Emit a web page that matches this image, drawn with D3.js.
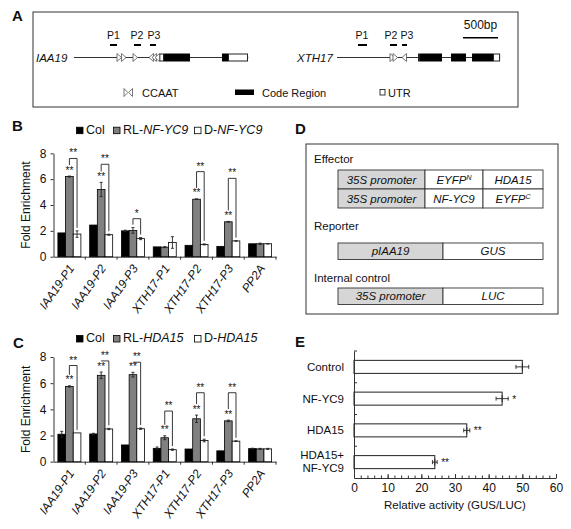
<!DOCTYPE html>
<html>
<head>
<meta charset="utf-8">
<script src="https://cdn.jsdelivr.net/npm/d3@7"></script>
<style>
body { margin: 0; background: #fff; }
text { font-family: "Liberation Sans", Arial, sans-serif; fill: #111; }
</style>
</head>
<body>
<svg id="fig" width="571" height="529"></svg>
<script>
// ---------- data ----------
// panel A: gene schematics, positions in bp from the start of the drawn line
var iaa19Len = 2490
var iaa19Fwd = [614, 679, 843]
var iaa19Rev = [1071, 1114, 1157]
var iaa19Utr = [[1219, 1286], [2200, 2486]]
var iaa19Cds = [[1286, 1657], [2114, 2200]]
// name, dash start, dash end, label centre
var iaa19Primers = [['P1', 514, 614, 564], ['P2', 857, 957, 900], ['P3', 1086, 1171, 1140]]

var xth17Len = 2330
var xth17Fwd = [757, 800]
var xth17Rev = [929]
var xth17Utr = [[1157, 1186], [2229, 2330]]
var xth17Cds = [[1186, 1500], [1629, 1843], [1929, 2229]]
var xth17Primers = [['P1', 300, 429, 355], ['P2', 757, 857, 771], ['P3', 929, 1000, 1000]]

// panels B and C: ChIP fold enrichment
var enrichCats = ['IAA19-P1', 'IAA19-P2', 'IAA19-P3', 'XTH17-P1', 'XTH17-P2', 'XTH17-P3', 'PP2A']
var enrichTicks = [0, 2, 4, 6, 8]

var colB = [1.84, 2.45, 2.0, 0.76, 0.88, 0.8, 1.0]
var colBErr = [0, 0, 0.05, 0, 0, 0, 0]
var rlB = [6.2, 5.2, 2.03, 0.74, 4.45, 2.7, 1.0]
var rlBErr = [0.04, 0.55, 0.22, 0.04, 0.02, 0.03, 0.05]
var dB = [1.75, 1.7, 1.4, 1.1, 0.95, 1.22, 1.0]
var dBErr = [0.25, 0.04, 0.08, 0.45, 0.04, 0.02, 0.02]
var starRlB = ['**', '**', '', '', '**', '**', '']
var starPairB = ['**', '**', '*', '', '**', '**', '']
var bracketB = [7.6, 7.15, 2.94, null, 6.58, 6.06, null]

var colC = [2.1, 2.12, 1.28, 1.02, 0.97, 0.83, 1.0]
var colCErr = [0.22, 0.05, 0, 0.1, 0, 0, 0.03]
var rlC = [5.75, 6.6, 6.65, 1.83, 3.28, 3.12, 0.98]
var rlCErr = [0.05, 0.25, 0.18, 0.15, 0.28, 0.06, 0.04]
var dC = [2.2, 2.5, 2.52, 0.92, 1.62, 1.57, 0.98]
var dCErr = [0, 0.05, 0.05, 0.05, 0.1, 0.03, 0.04]
var starRlC = ['**', '**', '**', '**', '**', '**', '']
var starPairC = ['**', '**', '**', '**', '**', '**', '']
var bracketC = [7.35, 7.7, 7.6, 3.87, 5.27, 5.27, null]

// panel E: transient assay
var actCats = ['Control', 'NF-YC9', 'HDA15', 'HDA15+NF-YC9']
var actLabels = [['Control'], ['NF-YC9'], ['HDA15'], ['HDA15+', 'NF-YC9']]
var actVals = [50, 44, 33.5, 24]
var actErr = [1.9, 1.8, 0.9, 0.7]
var actStars = ['', '*', '**', '**']
var actTicks = [0, 10, 20, 30, 40, 50, 60]

// ---------- drawing ----------
var svg = d3.select('#fig')
var FONT = '"Liberation Sans", Arial, sans-serif'

function panelLetter(t, x, y) {
	svg.append('text').attr('x', x).attr('y', y).text(t)
		.style('font-size', '15px').style('font-weight', 'bold')
}

panelLetter('A', 12, 21)
panelLetter('B', 12, 131)
panelLetter('C', 13, 348)
panelLetter('D', 295, 134)
panelLetter('E', 295, 347)

// ===== A =====
var gA = svg.append('g')
gA.append('rect').attr('x', 33).attr('y', 12).attr('width', 485).attr('height', 95)
	.attr('fill', 'none').attr('stroke', '#333').attr('stroke-width', 1)

var bp = d3.scaleLinear().domain([0, 500]).range([0, 35])

function drawGene(name, x0, labelX, len, fwd, rev, utr, cds, primers) {
	var g = gA.append('g').attr('transform', 'translate(' + x0 + ',0)')
	var lineY = 57.5
	gA.append('text').attr('x', labelX).attr('y', 61.7).text(name)
		.style('font-size', '11.5px').style('font-style', 'italic')
	g.append('line').attr('x1', bp(0)).attr('x2', bp(len)).attr('y1', lineY).attr('y2', lineY)
		.attr('stroke', '#333').attr('stroke-width', 1)
	g.selectAll('.cds').data(cds).enter().append('rect')
		.attr('x', function(d) { return bp(d[0]) }).attr('width', function(d) { return bp(d[1]) - bp(d[0]) })
		.attr('y', lineY - 4).attr('height', 8).attr('fill', '#000')
	g.selectAll('.utr').data(utr).enter().append('rect')
		.attr('x', function(d) { return bp(d[0]) + 0.5 }).attr('width', function(d) { return bp(d[1]) - bp(d[0]) - 1 })
		.attr('y', lineY - 3.5).attr('height', 7).attr('fill', '#fff').attr('stroke', '#222').attr('stroke-width', 1)
	g.selectAll('.fwd').data(fwd).enter().append('path')
		.attr('d', function(d) { var x = bp(d); return 'M' + x + ',' + (lineY - 4) + 'L' + (x + 4.5) + ',' + lineY + 'L' + x + ',' + (lineY + 4) + 'Z' })
		.attr('fill', '#fff').attr('stroke', '#666').attr('stroke-width', 0.9)
	g.selectAll('.rev').data(rev).enter().append('path')
		.attr('d', function(d) { var x = bp(d); return 'M' + (x + 4.5) + ',' + (lineY - 4) + 'L' + x + ',' + lineY + 'L' + (x + 4.5) + ',' + (lineY + 4) + 'Z' })
		.attr('fill', '#fff').attr('stroke', '#666').attr('stroke-width', 0.9)
	g.selectAll('.pdash').data(primers).enter().append('line')
		.attr('x1', function(d) { return bp(d[1]) }).attr('x2', function(d) { return bp(d[2]) })
		.attr('y1', 45).attr('y2', 45).attr('stroke', '#000').attr('stroke-width', 2)
	g.selectAll('.plab').data(primers).enter().append('text')
		.attr('x', function(d) { return bp(d[3]) }).attr('y', 39.3)
		.attr('text-anchor', 'middle').text(function(d) { return d[0] })
		.style('font-size', '10.5px')
}

drawGene('IAA19', 74, 36, iaa19Len, iaa19Fwd, iaa19Rev, iaa19Utr, iaa19Cds, iaa19Primers)
drawGene('XTH17', 337, 297, xth17Len, xth17Fwd, xth17Rev, xth17Utr, xth17Cds, xth17Primers)

// scale bar
gA.append('line').attr('x1', 498 - bp(500)).attr('x2', 498).attr('y1', 37.7).attr('y2', 37.7)
	.attr('stroke', '#000').attr('stroke-width', 1.5)
gA.append('text').attr('x', 498 - bp(500) / 2).attr('y', 29.3).attr('text-anchor', 'middle')
	.text('500bp').style('font-size', '12px')

// legend of A
gA.append('path').attr('d', 'M124,88.5L127.8,92.5L124,96.5Z').attr('fill', '#fff').attr('stroke', '#666').attr('stroke-width', 0.9)
gA.append('path').attr('d', 'M132.5,88.5L128.7,92.5L132.5,96.5Z').attr('fill', '#fff').attr('stroke', '#666').attr('stroke-width', 0.9)
gA.append('text').attr('x', 142).attr('y', 96.5).text('CCAAT').style('font-size', '11px')
gA.append('rect').attr('x', 235).attr('y', 89.5).attr('width', 19).attr('height', 5.5).attr('fill', '#000')
gA.append('text').attr('x', 262).attr('y', 96.5).text('Code Region').style('font-size', '11px')
gA.append('rect').attr('x', 380).attr('y', 89.5).attr('width', 5).attr('height', 5.5)
	.attr('fill', '#fff').attr('stroke', '#222').attr('stroke-width', 0.9)
gA.append('text').attr('x', 388).attr('y', 96.5).text('UTR').style('font-size', '11px')

// ===== B / C =====
var seriesKeys = ['col', 'rl', 'd']
var seriesFill = { col: '#000', rl: '#808080', d: '#fff' }

function drawEnrich(set) {
	var g = svg.append('g')
	var y = d3.scaleLinear().domain([0, 8]).range([set.bottom, set.top])
	var x = d3.scaleBand().domain(enrichCats).range([53.5, 276])
	var inner = d3.scaleBand().domain(seriesKeys).range([0, 23])
	var off = (x.bandwidth() - 23) / 2
	var cx = function(c, k) { return x(c) + off + inner(k) + inner.bandwidth() / 2 }

	// legend
	var leg = [
		{ k: 'col', x: 76, parts: [['Col', 'normal']] },
		{ k: 'rl', x: 113, parts: [['RL-', 'normal'], [set.gene, 'italic']] },
		{ k: 'd', x: 194, parts: [['D-', 'normal'], [set.gene, 'italic']] }
	]
	leg.forEach(function(l) {
		g.append('rect').attr('x', l.x + 0.5).attr('y', set.legendY - 6.5).attr('width', 6.5).attr('height', 6.5)
			.attr('fill', seriesFill[l.k]).attr('stroke', '#000').attr('stroke-width', 0.8)
		var t = g.append('text').attr('x', l.x + 10).attr('y', set.legendY).style('font-size', '12.5px')
		l.parts.forEach(function(p) { t.append('tspan').text(p[0]).style('font-style', p[1]) })
	})

	// y axis
	var ya = g.append('g').attr('transform', 'translate(53.5,0)')
		.call(d3.axisLeft(y).tickValues(enrichTicks).tickSize(3).tickSizeOuter(0).tickPadding(4))
	ya.selectAll('text').style('font-size', '12px').style('font-family', FONT).attr('fill', '#111')
	ya.select('.domain').attr('stroke', '#333')
	ya.selectAll('.tick line').attr('stroke', '#333')

	g.append('text').attr('transform', 'translate(29.5,' + ((set.top + set.bottom) / 2) + ') rotate(-90)')
		.attr('text-anchor', 'middle').text('Fold Enrichment').style('font-size', '12px')

	// x axis
	var xa = g.append('g').attr('transform', 'translate(0,' + set.bottom + ')')
		.call(d3.axisBottom(x).tickSize(0).tickSizeOuter(0).tickFormat(''))
	xa.select('.domain').attr('stroke', '#333')
	var bounds = enrichCats.slice(1).map(function(c) { return x(c) }).concat([x.range()[1]])
	g.selectAll('.btick').data(bounds).enter().append('line')
		.attr('x1', function(d) { return d }).attr('x2', function(d) { return d })
		.attr('y1', set.bottom).attr('y2', set.bottom + 3).attr('stroke', '#333')
	g.selectAll('.xlab').data(enrichCats).enter().append('text')
		.attr('transform', function(c) { return 'translate(' + (x(c) + x.bandwidth() / 2 + 5.5) + ',' + (set.bottom + 11.5) + ') rotate(-55)' })
		.attr('text-anchor', 'end').text(function(c) { return c })
		.style('font-size', '12px').style('font-style', 'italic')

	// bars
	var vals = { col: set.col, rl: set.rl, d: set.d }
	var errs = { col: set.colErr, rl: set.rlErr, d: set.dErr }
	var rows = []
	enrichCats.forEach(function(c, i) {
		seriesKeys.forEach(function(k) { rows.push({ c: c, k: k, v: vals[k][i], e: errs[k][i] }) })
	})
	g.selectAll('.bar').data(rows).enter().append('rect')
		.attr('x', function(d) { return x(d.c) + off + inner(d.k) })
		.attr('width', inner.bandwidth())
		.attr('y', function(d) { return y(d.v) })
		.attr('height', function(d) { return y(0) - y(d.v) })
		.attr('fill', function(d) { return seriesFill[d.k] })
		.attr('stroke', '#000').attr('stroke-width', 0.8)

	var er = rows.filter(function(d) { return d.e > 0 })
	g.selectAll('.err').data(er).enter().append('path')
		.attr('d', function(d) {
			var xc = cx(d.c, d.k), y1 = y(d.v + d.e), y2 = y(d.v - d.e)
			return 'M' + xc + ',' + y1 + 'V' + y2 + 'M' + (xc - 1.5) + ',' + y1 + 'H' + (xc + 1.5) + 'M' + (xc - 1.5) + ',' + y2 + 'H' + (xc + 1.5)
		})
		.attr('stroke', '#222').attr('stroke-width', 0.9).attr('fill', 'none')

	// significance marks
	enrichCats.forEach(function(c, i) {
		if (set.bracket[i] == null) return
		var rx = cx(c, 'rl'), dx = cx(c, 'd')
		var rlTop = y(set.rl[i] + set.rlErr[i])
		var dTop = y(set.d[i] + set.dErr[i])
		var by = y(set.bracket[i])
		if (set.starRl[i]) {
			g.append('text').attr('x', rx).attr('y', rlTop - 2.5).attr('text-anchor', 'middle')
				.text(set.starRl[i]).style('font-size', '10px')
		}
		var leftBottom = Math.max(set.starRl[i] ? rlTop - 11 : rlTop - 3, by)
		g.append('path')
			.attr('d', 'M' + rx + ',' + leftBottom + 'V' + by + 'H' + dx + 'V' + (dTop - 3))
			.attr('fill', 'none').attr('stroke', '#222').attr('stroke-width', 0.9)
		g.append('text').attr('x', (rx + dx) / 2).attr('y', by - 2).attr('text-anchor', 'middle')
			.text(set.starPair[i]).style('font-size', '10px')
	})
}

drawEnrich({
	top: 153.3, bottom: 256.7, legendY: 133.7, gene: 'NF-YC9',
	col: colB, colErr: colBErr, rl: rlB, rlErr: rlBErr, d: dB, dErr: dBErr,
	starRl: starRlB, starPair: starPairB, bracket: bracketB
})
drawEnrich({
	top: 357, bottom: 461.7, legendY: 342, gene: 'HDA15',
	col: colC, colErr: colCErr, rl: rlC, rlErr: rlCErr, d: dC, dErr: dCErr,
	starRl: starRlC, starPair: starPairC, bracket: bracketC
})

// ===== D =====
var gD = svg.append('g')
gD.append('rect').attr('x', 306).attr('y', 144).attr('width', 252).attr('height', 170)
	.attr('fill', 'none').attr('stroke', '#333').attr('stroke-width', 1)

function cellRow(y, h, cols) {
	cols.forEach(function(c, i) {
		gD.append('rect').attr('x', c.x0).attr('y', y).attr('width', c.x1 - c.x0).attr('height', h)
			.attr('fill', i == 0 ? '#d6d6d6' : '#fff').attr('stroke', '#333').attr('stroke-width', 0.9)
		var t = gD.append('text').attr('x', (c.x0 + c.x1) / 2).attr('y', y + h / 2 + 4)
			.attr('text-anchor', 'middle').style('font-size', '11.5px').style('font-style', 'italic')
		t.append('tspan').text(c.t)
		if (c.sup) t.append('tspan').text(c.sup).style('font-size', '7px').attr('dy', -4)
	})
}

gD.append('text').attr('x', 314).attr('y', 162.5).text('Effector').style('font-size', '11.5px')
cellRow(170, 19, [{ x0: 338, x1: 425, t: '35S promoter' }, { x0: 425, x1: 483, t: 'EYFP', sup: 'N' }, { x0: 483, x1: 543, t: 'HDA15' }])
cellRow(189, 19, [{ x0: 338, x1: 425, t: '35S promoter' }, { x0: 425, x1: 483, t: 'NF-YC9' }, { x0: 483, x1: 543, t: 'EYFP', sup: 'C' }])
gD.append('text').attr('x', 314).attr('y', 230).text('Reporter').style('font-size', '11.5px')
cellRow(243, 16.5, [{ x0: 338, x1: 443, t: 'pIAA19' }, { x0: 443, x1: 543, t: 'GUS' }])
gD.append('text').attr('x', 314).attr('y', 281.7).text('Internal control').style('font-size', '11.5px')
cellRow(288, 16.5, [{ x0: 338, x1: 443, t: '35S promoter' }, { x0: 443, x1: 543, t: 'LUC' }])

// ===== E =====
var gE = svg.append('g')
var xE = d3.scaleLinear().domain([0, 60]).range([354, 556])
var yE = d3.scaleBand().domain(actCats).range([351, 478]).paddingInner(0.59).paddingOuter(0.295)

gE.selectAll('.bar').data(actCats).enter().append('rect')
	.attr('x', xE(0)).attr('y', function(c) { return yE(c) })
	.attr('width', function(c, i) { return xE(actVals[i]) - xE(0) })
	.attr('height', yE.bandwidth())
	.attr('fill', '#fff').attr('stroke', '#222').attr('stroke-width', 1)

gE.selectAll('.err').data(actCats).enter().append('path')
	.attr('d', function(c, i) {
		var yc = yE(c) + yE.bandwidth() / 2, x1 = xE(actVals[i] - actErr[i]), x2 = xE(actVals[i] + actErr[i])
		return 'M' + x1 + ',' + yc + 'H' + x2 + 'M' + x1 + ',' + (yc - 2) + 'V' + (yc + 2) + 'M' + x2 + ',' + (yc - 2) + 'V' + (yc + 2) +
			'M' + xE(actVals[i]) + ',' + (yc - 3.5) + 'V' + (yc + 3.5)
	})
	.attr('stroke', '#222').attr('stroke-width', 0.9).attr('fill', 'none')

gE.selectAll('.star').data(actCats).enter().append('text')
	.attr('x', function(c, i) { return xE(actVals[i] + actErr[i]) + 4 })
	.attr('y', function(c) { return yE(c) + yE.bandwidth() / 2 + 4 })
	.text(function(c, i) { return actStars[i] }).style('font-size', '10px')

var xaE = gE.append('g').attr('transform', 'translate(0,478)')
	.call(d3.axisBottom(xE).tickValues(actTicks).tickSize(-4).tickSizeOuter(0).tickPadding(5))
xaE.selectAll('text').style('font-size', '12px').style('font-family', FONT).attr('fill', '#111')
xaE.select('.domain').attr('stroke', '#333')
xaE.selectAll('.tick line').attr('stroke', '#333')
var minor = gE.append('g').attr('transform', 'translate(0,478)')
	.call(d3.axisBottom(xE).tickValues(d3.range(0, 61, 2)).tickSize(-2.5).tickSizeOuter(0).tickFormat(''))
minor.select('.domain').remove()
minor.selectAll('.tick line').attr('stroke', '#333')

var yaE = gE.append('g').attr('transform', 'translate(354,0)')
	.call(d3.axisLeft(yE).tickSize(0).tickSizeOuter(0).tickFormat(''))
yaE.select('.domain').attr('stroke', '#333')
var eBounds = actCats.map(function(c) { return yE(c) - (yE.step() - yE.bandwidth()) / 2 })
gE.selectAll('.btick').data(eBounds).enter().append('line')
	.attr('x1', 354).attr('x2', 357).attr('y1', function(d) { return d }).attr('y2', function(d) { return d })
	.attr('stroke', '#333')

gE.selectAll('.ylab').data(actCats).enter().append('text')
	.attr('x', 344).attr('text-anchor', 'end').style('font-size', '11.5px')
	.each(function(c, i) {
		var lines = actLabels[i]
		var yc = yE(c) + yE.bandwidth() / 2
		var t = d3.select(this)
		lines.forEach(function(l, j) {
			var yy = lines.length == 1 ? yc + 4 : yc - 3.5 + j * 13
			t.append('tspan').attr('x', 344).attr('y', yy).text(l)
		})
	})

gE.append('text').attr('x', (xE(0) + xE(60)) / 2).attr('y', 509).attr('text-anchor', 'middle')
	.text('Relative activity (GUS/LUC)').style('font-size', '11.5px')
</script>
</body>
</html>
